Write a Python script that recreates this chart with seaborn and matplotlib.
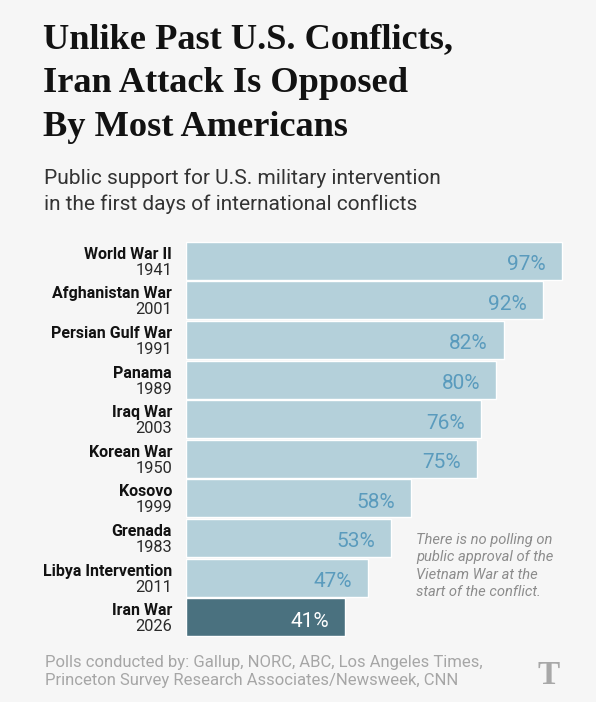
import matplotlib
matplotlib.use("Agg")
import matplotlib.pyplot as plt
import seaborn as sns

# ===== DATA =====
conflicts = ["World War II", "Afghanistan War", "Persian Gulf War", "Panama", "Iraq War",
             "Korean War", "Kosovo", "Grenada", "Libya Intervention", "Iran War"]
years = ["1941", "2001", "1991", "1989", "2003", "1950", "1999", "1983", "2011", "2026"]
support = [97, 92, 82, 80, 76, 75, 58, 53, 47, 41]

title_lines = ["Unlike Past U.S. Conflicts,", "Iran Attack Is Opposed", "By Most Americans"]
subtitle_lines = ["Public support for U.S. military intervention",
                  "in the first days of international conflicts"]
note_lines = ["There is no polling on", "public approval of the",
              "Vietnam War at the", "start of the conflict."]
source_lines = ["Polls conducted by: Gallup, NORC, ABC, Los Angeles Times,",
                "Princeton Survey Research Associates/Newsweek, CNN"]

# ===== STYLE =====
BG = "#f6f6f6"
LIGHT = "#b4d0da"
DARK = "#4a717f"
VALUE_COLOR = "#5a9bbd"

sns.set_style("white")
plt.rcParams["font.family"] = ["Roboto", "DejaVu Sans"]

SANS = ["Roboto", "DejaVu Sans"]
SERIF = ["Liberation Serif", "DejaVu Serif"]

W, H = 596, 702
fig = plt.figure(figsize=(W / 100, H / 100), dpi=100, facecolor=BG)


def fx(px):
    return px / W


def fy(px):
    return 1 - px / H


# bars area: left 186px, 3.876 px per percent, top 241px, bottom 637px
ax = fig.add_axes([fx(186), fy(637), 387.6 / W, 396 / H])
ax.set_facecolor(BG)

palette = [LIGHT] * (len(conflicts) - 1) + [DARK]
sns.barplot(x=support, y=conflicts, hue=conflicts, palette=palette, legend=False,
            orient="h", width=38 / 39.6, saturation=1, ax=ax)

ax.set_xlim(0, 100)
ax.set_ylim(len(conflicts) - 0.5, -0.5)
ax.set_xticks([])
ax.set_yticks([])
ax.set_xlabel("")
ax.set_ylabel("")
sns.despine(ax=ax, left=True, bottom=True)

for i, (name, yr, v) in enumerate(zip(conflicts, years, support)):
    ax.text(-3.6, i - 0.05, name, ha="right", va="baseline", fontsize=11.5,
            fontweight="bold", family=SANS, color="#121212", clip_on=False)
    ax.text(-3.6, i + 0.354, yr, ha="right", va="baseline", fontsize=11.8,
            family=SANS, color="#2a2a2a", clip_on=False)
    col = "white" if i == len(conflicts) - 1 else VALUE_COLOR
    ax.text(v - 4.13, i + 0.235, f"{v}%", ha="right", va="baseline", fontsize=15,
            family=SANS, color=col)

# ===== TITLE / SUBTITLE =====
for k, line in enumerate(title_lines):
    fig.text(fx(43), fy(48 + 44 * k), line, ha="left", va="baseline", fontsize=26.2,
             fontweight="bold", family=SERIF, color="#121212")

for k, line in enumerate(subtitle_lines):
    fig.text(fx(44), fy(184 + 26 * k), line, ha="left", va="baseline", fontsize=15,
             family=SANS, color="#333333")

# ===== NOTE =====
for k, line in enumerate(note_lines):
    fig.text(fx(416), fy(544 + 17.5 * k), line, ha="left", va="baseline", fontsize=10.6,
             style="italic", family=SANS, color="#8c8c8c")

# ===== SOURCE =====
for k, line in enumerate(source_lines):
    fig.text(fx(45), fy(667 + 18.5 * k), line, ha="left", va="baseline", fontsize=12.0,
             family=SANS, color="#a6a6a6")

fig.text(fx(549), fy(684), "T", ha="center", va="baseline", fontsize=24,
         fontweight="bold", family=SERIF, color="#a8a8a8")

fig.savefig("out.png", dpi=100, facecolor=BG)
